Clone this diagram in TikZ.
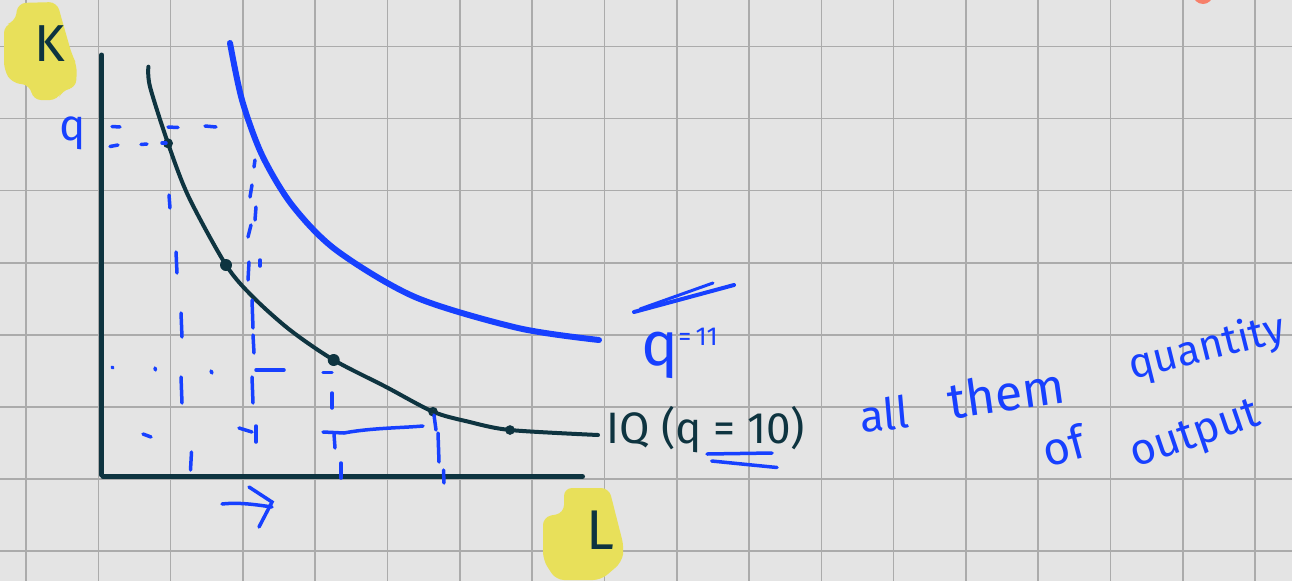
\documentclass[tikz,border=0pt]{standalone}
\usepackage{fontspec}
\setmainfont{Fira Sans}
\usetikzlibrary{calc}
\definecolor{paper}{HTML}{E4E4E4}
\definecolor{gridgrey}{HTML}{ABABAB}
\definecolor{inkblue}{HTML}{1740FF}
\definecolor{inkdark}{HTML}{0E3440}
\definecolor{marker}{HTML}{E8E05A}
\definecolor{coral}{HTML}{F7806A}
\tikzset{
  gridline/.style={draw=gridgrey, line width=1.6pt},
  axisline/.style={draw=inkdark, line width=5pt, line cap=round},
  iqcurve/.style={draw=inkdark, line width=4pt, line cap=round, line join=round},
  highcurve/.style={draw=inkblue, line width=6pt, line cap=round, line join=round},
  guide/.style={draw=inkblue, line width=3.5pt, line cap=round},
  highlight/.style={fill=marker, rounded corners=8pt},
  darkhand/.style={text=inkdark, inner sep=0pt},
  bluehand/.style={text=inkblue, inner sep=0pt},
}

\begin{document}
\begin{tikzpicture}[x=1pt,y=-1pt]
\useasboundingbox (0,0) rectangle (1292,581);
\fill[paper] (0,0) rectangle (1292,581);
\foreach \k in {0,...,17} \draw[gridline] ({26+72.3*\k},0) -- ({26+72.3*\k},581);
\foreach \k in {0,...,7} \draw[gridline] (0,{46.4+72.1*\k}) -- (1292,{46.4+72.1*\k});
\fill[coral] (1203,-6) circle (10pt);

% marker blobs behind the axis names
\fill[highlight] (18,3) -- (57,2) -- (62,20) -- (72,55) -- (77,65) -- (76,88) -- (62,90)
  -- (58,100) -- (33,100) -- (30,85) -- (12,83) -- (4,70) -- (4,25) -- (15,22) -- cycle;
\fill[highlight] (564,488) -- (609,488) -- (624,547) -- (622,562) -- (601,580) -- (556,580)
  -- (543,560) -- (543,517) -- (564,513) -- cycle;

\draw[axisline] (101.6,55) -- (101.6,475);
\draw[axisline] (103,476.5) -- (582.5,476.5);

\coordinate (pa) at (168,143.3);
\coordinate (pb) at (226,265);
\coordinate (pc) at (333.7,360);
\coordinate (pd) at (433,411.7);
\coordinate (pe) at (510,430);

\draw[highcurve] plot[smooth] coordinates {(230,43) (242,100) (262,155) (292,205) (336,250)
  (415,297) (518,328) (599,340)};
\draw[iqcurve] plot[smooth] coordinates {(148.4,66.7) (150,86.7) (168,143.3) (188.6,196.7)
  (226,265) (253,297) (290,330) (333.7,360) (385.6,386.7) (433,411.7) (468.5,421.7)
  (510,430) (598,435)};
\fill[inkdark] (pa) circle (5pt);
\fill[inkdark] (pb) circle (6pt);
\fill[inkdark] (pc) circle (6pt);
\draw[inkdark, line width=2.5pt] (pd) circle (3.5pt);
\draw[inkdark, line width=2.5pt] (pe) circle (3.5pt);

\foreach \xa/\ya/\xb/\yb in {112/126.5/120/127, 168/127/178/127.5, 205/126/216/127,
  110/146.5/118/145, 141/144.5/147/144, 162/143/166/143,
  169/195/170/208, 176/252/177/273, 181/313/182/337, 181/377/182/403, 191.5/452/190.5/470,
  255/160/254/167, 252/185/250/197, 256/207/255/220, 251/225/248/237, 249/262/248/280,
  260/260/260/266, 252/300/253/328, 253/335/254/353, 256/370/284/370, 252/377/253/403,
  239/428/252/432, 256/426/256/442,
  323/372.7/332/372.7, 332/393/332/408, 323/432/344/433, 334/434/335/448, 341/463/341/478,
  434/415/436/430, 438/433/439/462, 443.5/470/444/483,
  112/367/113/368, 155/368/155.5/370, 211/371/212/373, 143/434/151/437}
  \draw[guide] (\xa,\ya) -- (\xb,\yb);
\draw[guide] (344,433) .. controls (370,428) and (400,428) .. (423,426);

\draw[guide] (222,504) .. controls (240,502) and (258,505) .. (272,507);
\draw[guide] (249,487) -- (272,502) -- (259,527);

\node[darkhand, font=\fontsize{52}{52}\selectfont] (kname) at (50,44) {K};
\node[darkhand, font=\fontsize{56}{56}\selectfont] (lname) at (600,530) {L};
\node[bluehand, anchor=base, font=\fontsize{44}{44}\selectfont] (kvalue) at (73,140) {q};

\node[bluehand, anchor=base west] (qhigh) at (641,365)
  {{\fontsize{62}{62}\selectfont q}{\fontsize{26}{26}\selectfont\raisebox{20pt}{=\,11}}};
\draw[guide, line width=4pt] (634,312) -- (734,285);
\draw[guide, line width=3pt] (640,309) -- (713,283);

\node[darkhand, anchor=base west, font=\fontsize{44}{44}\selectfont] (iqname) at (606,443)
  {IQ (q = 10)};
\draw[guide] (707,454) -- (772,453);
\draw[guide] (711.7,461) -- (777,467.5);

\node[bluehand, anchor=base, rotate=5, font=\fontsize{44}{44}\selectfont] (allword) at (886,430) {all};
\node[bluehand, anchor=base, rotate=8, font=\fontsize{50}{50}\selectfont] (themword) at (1009,411) {them};
\node[bluehand, anchor=base, rotate=14, font=\fontsize{42}{42}\selectfont] (quantword) at (1210,360) {quantity};
\node[bluehand, anchor=base, rotate=15, font=\fontsize{46}{46}\selectfont] (ofword) at (1068,462) {of};
\node[bluehand, anchor=base, rotate=19, font=\fontsize{44}{44}\selectfont] (outword) at (1199,446) {output};
\end{tikzpicture}
\end{document}
